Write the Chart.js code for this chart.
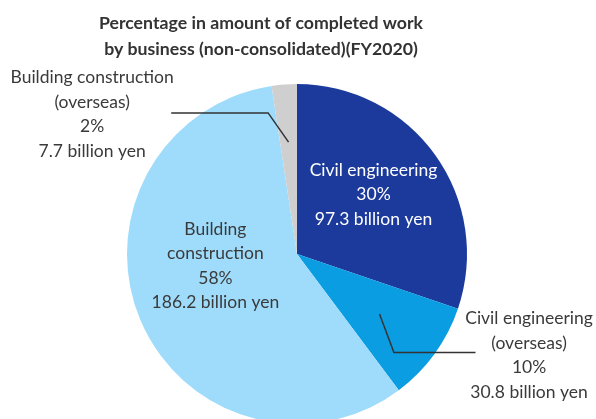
<!DOCTYPE html>
<html>
<head>
<meta charset="utf-8">
<script src="https://cdn.jsdelivr.net/npm/chart.js"></script>
<style>
  html, body { margin: 0; padding: 0; background: #fff; overflow: hidden; }
  #wrap { width: 596px; height: 440px; position: relative; }
</style>
</head>
<body>
<div id="wrap"><canvas id="pie"></canvas></div>
<script>
// data
var categories = ["Civil engineering", "Civil engineering\n(overseas)", "Building\nconstruction", "Building construction\n(overseas)"];
var amounts = [97.3, 30.8, 186.2, 7.7];        // billion yen
var shares = ["30%", "10%", "58%", "2%"];
var titleLines = ["Percentage in amount of completed work", "by business (non-consolidated)(FY2020)"];

var colors = ["#1b3a9b", "#0a9de2", "#9fdcfb", "#cfcfcf"];
var FONT = "Lato, 'Noto Sans', sans-serif";

// label placement relative to the pie centre, in units of the radius
var labelPos = [
  { dx: 0.45, dy: -0.35, color: "#ffffff" },
  { dx: 1.365, dy: 0.595, color: "#3a3a3a" },
  { dx: -0.48, dy: 0.07, color: "#3a3a3a" },
  { dx: -1.205, dy: -0.82, color: "#3a3a3a" }
];
// leader lines: anchor radius, bend point, end point (relative, radius units)
var leaders = {
  1: { r: 0.6, bend: [0.57, 0.58], end: [1.05, 0.58] },
  3: { r: 0.66, bend: [-0.17, -0.83], end: [-0.74, -0.83] }
};

var textPlugin = {
  id: "texts",
  afterDraw: function(chart) {
    var ctx = chart.ctx;
    var meta = chart.getDatasetMeta(0);
    var arc0 = meta.data[0];
    var cx = arc0.x, cy = arc0.y, R = arc0.outerRadius;

    ctx.save();
    // title
    ctx.fillStyle = "#333333";
    ctx.textAlign = "center";
    ctx.textBaseline = "middle";
    ctx.font = "bold 17.7px " + FONT;
    ctx.fillText(titleLines[0], 261, 23);
    ctx.fillText(titleLines[1], 261, 49);

    // leader lines
    ctx.strokeStyle = "#333333";
    ctx.lineWidth = 1.5;
    Object.keys(leaders).forEach(function(k) {
      var arc = meta.data[k];
      var L = leaders[k];
      var mid = (arc.startAngle + arc.endAngle) / 2;
      ctx.beginPath();
      ctx.moveTo(cx + Math.cos(mid) * R * L.r, cy + Math.sin(mid) * R * L.r);
      ctx.lineTo(cx + L.bend[0] * R, cy + L.bend[1] * R);
      ctx.lineTo(cx + L.end[0] * R, cy + L.end[1] * R);
      ctx.stroke();
    });

    // labels
    ctx.font = "17.5px " + FONT;
    for (var i = 0; i < categories.length; i++) {
      var lines = categories[i].split("\n").concat([shares[i], amounts[i] + " billion yen"]);
      var p = labelPos[i];
      var x = cx + p.dx * R, y = cy + p.dy * R;
      var lh = 24.5;
      var y0 = y - (lines.length - 1) * lh / 2;
      ctx.fillStyle = p.color;
      lines.forEach(function(t, j) { ctx.fillText(t, x, y0 + j * lh); });
    }
    ctx.restore();
  }
};

var ctx = document.getElementById("pie");
var chart = new Chart(ctx, {
  type: "pie",
  data: {
    labels: categories,
    datasets: [{
      data: amounts,
      backgroundColor: colors,
      borderWidth: 0
    }]
  },
  options: {
    responsive: true,
    maintainAspectRatio: false,
    animation: false,
    layout: { padding: { top: 84, left: 127, right: 129, bottom: 16 } },
    plugins: {
      legend: { display: false },
      tooltip: { enabled: false },
      title: { display: false }
    }
  },
  plugins: [textPlugin]
});
</script>
</body>
</html>
